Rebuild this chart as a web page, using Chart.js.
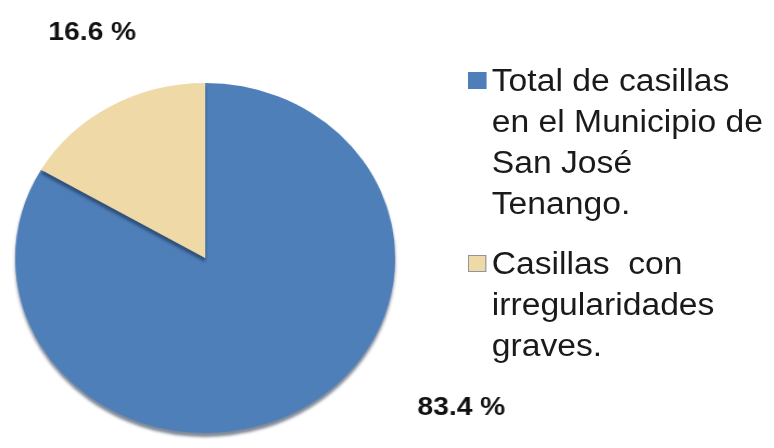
<!DOCTYPE html>
<html>
<head>
<meta charset="utf-8">
<script src="https://cdn.jsdelivr.net/npm/chart.js@4"></script>
<style>
    html, body { margin: 0; padding: 0; background: #fff; }
    body { width: 774px; height: 448px; overflow: hidden; }
    /* original picture is a little stretched sideways */
    #wrap { position: relative; width: 713px; height: 448px; transform: scaleX(1.0856); transform-origin: 0 0; }
    #legend { position: absolute; left: 431px; top: 60px; font-family: "Liberation Sans", Arial, sans-serif; font-size: 31px; line-height: 41px; color: #1a1a1a; }
    .item { position: relative; padding-left: 22px; margin-bottom: 19px; white-space: pre; }
    .box { position: absolute; left: 0; top: 12px; width: 17px; height: 17px; box-sizing: border-box; }
</style>
</head>
<body>
<div id="wrap">
    <canvas id="pieChart"></canvas>
    <div id="legend"></div>
</div>
<script>
const labels = [
    ["Total de casillas", "en el Municipio de", "San José", "Tenango."],
    ["Casillas  con", "irregularidades", "graves."]
];
const values = [83.4, 16.6];
const colors = ["#4f7fb9", "#efd9a7"];
const boxBorders = ["#4f7fb9", "#8a96a8"];
const labelSpots = [[425, 408], [85, 33]]; // where the percent texts sit

// percent texts
const percentLabels = {
    id: "percentLabels",
    afterDraw(chart) {
        const ctx = chart.ctx;
        ctx.save();
        ctx.fillStyle = "#111";
        ctx.font = "bold 26px 'Liberation Sans', Arial, sans-serif";
        ctx.textAlign = "center";
        ctx.textBaseline = "middle";
        values.forEach((v, i) => {
            ctx.fillText(v.toFixed(1) + " %", labelSpots[i][0], labelSpots[i][1]);
        });
        ctx.restore();
    }
};

// soft shadow under the pie
const pieShadow = {
    id: "pieShadow",
    beforeDatasetsDraw(chart) {
        const ctx = chart.ctx;
        ctx.save();
        ctx.shadowColor = "rgba(20,40,70,0.55)";
        ctx.shadowBlur = 3;
        ctx.shadowOffsetY = 4;
    },
    afterDatasetsDraw(chart) {
        chart.ctx.restore();
    }
};

new Chart(document.getElementById("pieChart").getContext("2d"), {
    type: "pie",
    data: {
        labels: labels,
        datasets: [{
            data: values,
            backgroundColor: colors,
            borderWidth: 0
        }]
    },
    options: {
        responsive: true,
        maintainAspectRatio: false,
        animation: false,
        layout: { padding: { left: 14, right: 349, top: 82, bottom: 14 } },
        plugins: {
            legend: { display: false },
            tooltip: { enabled: false }
        }
    },
    plugins: [pieShadow, percentLabels]
});

// legend on the right
const legend = document.getElementById("legend");
labels.forEach((lines, i) => {
    const item = document.createElement("div");
    item.className = "item";
    item.innerHTML = '<span class="box" style="background:' + colors[i] + ';border:1.5px solid ' + boxBorders[i] + '"></span>' + lines.join("\n");
    legend.appendChild(item);
});
</script>
</body>
</html>
